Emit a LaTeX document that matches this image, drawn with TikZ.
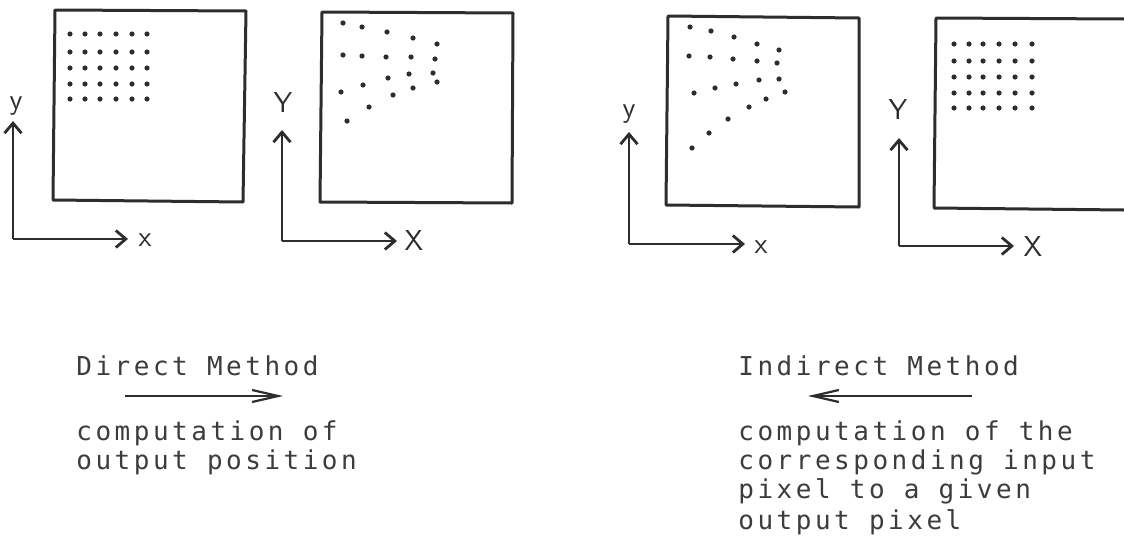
\documentclass[tikz,border=0pt]{standalone}
\usepackage{fontspec}
\newfontfamily\typefont[LetterSpace=13.5]{DejaVu Sans Mono}
\usepackage{xcolor}
\definecolor{inkgray}{RGB}{45,45,45}
\definecolor{typegray}{RGB}{60,60,60}
\usetikzlibrary{arrows.meta}

\begin{document}
\begin{tikzpicture}[x=0.5pt, y=-0.5pt,
    frame/.style={draw=inkgray, line width=1.5pt, line join=round},
    axis/.style={draw=inkgray, line width=1.2pt, -{Straight Barb[length=5pt, width=8.5pt, line width=1.4pt]}},
    axlabel/.style={font=\sffamily\Large, text=inkgray, inner sep=0pt},
    pix/.style={fill=inkgray},
    typeline/.style={font=\typefont\fontsize{13}{15}\selectfont, text=typegray, anchor=base west, inner sep=0pt},
    flow/.style={draw=inkgray, line width=1pt, -{Straight Barb[length=13pt, width=6pt, line width=1.1pt]}}]
  \useasboundingbox (0,0) rectangle (1124,541);

  % Direct method: input image
  \draw[frame] (55,10) -- (246,11) -- (243,202) -- (53,200) -- cycle;
  \foreach \gx in {70,85,100,116,132,147}
    \foreach \gy in {34,52,68,84,99}
      \fill[pix] (\gx,\gy) circle (1.3pt);
  \coordinate (orgA) at (13,239);
  \coordinate (ytipA) at (13,121);
  \coordinate (xtipA) at (128,239);
  \draw[axis] (orgA) -- (ytipA);
  \draw[axis] (orgA) -- (xtipA);
  \node[axlabel] (ylabA) at (16,106) {y};
  \node[axlabel] (xlabA) at (145,240) {x};

  % Direct method: output image
  \draw[frame] (322,12) -- (513,13) -- (512,203) -- (320,202) -- cycle;
  \foreach \p in {(343,23),(362,27),(387,32),(413,38),(437,44),
                  (343,55),(362,56),(386,57),(411,57),(435,59),
                  (341,92),(363,85),(388,78),(409,74),(433,73),
                  (437,82),(413,88),(393,95),(369,107),(347,121)}
    \fill[pix] \p circle (1.3pt);
  \coordinate (orgB) at (282,241);
  \coordinate (ytipB) at (282,130);
  \coordinate (xtipB) at (397,241);
  \draw[axis] (orgB) -- (ytipB);
  \draw[axis] (orgB) -- (xtipB);
  \node[axlabel] (ylabB) at (283,103) {Y};
  \node[axlabel] (xlabB) at (414,241) {X};

  % Indirect method: input image
  \draw[frame] (668,16) -- (859,18) -- (859,207) -- (666,205) -- cycle;
  \foreach \p in {(690,27),(711,31),(734,37),(757,44),(779,50),
                  (689,56),(710,57),(733,59),(757,61),(777,63),
                  (694,93),(715,88),(736,84),(759,80),(779,79),
                  (785,92),(766,99),(749,107),(728,119),(709,133),(692,148)}
    \fill[pix] \p circle (1.3pt);
  \coordinate (orgC) at (629,244);
  \coordinate (ytipC) at (629,132);
  \coordinate (xtipC) at (745,244);
  \draw[axis] (orgC) -- (ytipC);
  \draw[axis] (orgC) -- (xtipC);
  \node[axlabel] (ylabC) at (629,114) {y};
  \node[axlabel] (xlabC) at (761,247) {x};

  % Indirect method: output image (cut off at the right)
  \draw[frame] (1124,19) -- (936,18) -- (934,208) -- (1124,210);
  \foreach \gx in {954,969,983,999,1015,1032}
    \foreach \gy in {44,61,77,93,108}
      \fill[pix] (\gx,\gy) circle (1.3pt);
  \coordinate (orgD) at (899,246);
  \coordinate (ytipD) at (899,138);
  \coordinate (xtipD) at (1014,246);
  \draw[axis] (orgD) -- (ytipD);
  \draw[axis] (orgD) -- (xtipD);
  \node[axlabel] (ylabD) at (898,110) {Y};
  \node[axlabel] (xlabD) at (1033,247) {X};

  % Captions
  \node[typeline] (direct) at (76,375) {Direct Method};
  \coordinate (dirFrom) at (125,396);
  \coordinate (dirTo) at (283,396);
  \draw[flow] (dirFrom) -- (dirTo);
  \node[typeline] (dirA) at (76,440) {computation of};
  \node[typeline] (dirB) at (76,469) {output position};

  \node[typeline] (indirect) at (738,375) {Indirect Method};
  \coordinate (indFrom) at (972,396);
  \coordinate (indTo) at (808,396);
  \draw[flow] (indFrom) -- (indTo);
  \node[typeline] (indA) at (738,440) {computation of the};
  \node[typeline] (indB) at (738,469) {corresponding input};
  \node[typeline] (indC) at (738,498) {pixel to a given};
  \node[typeline] (indD) at (738,529) {output pixel};
\end{tikzpicture}
\end{document}
